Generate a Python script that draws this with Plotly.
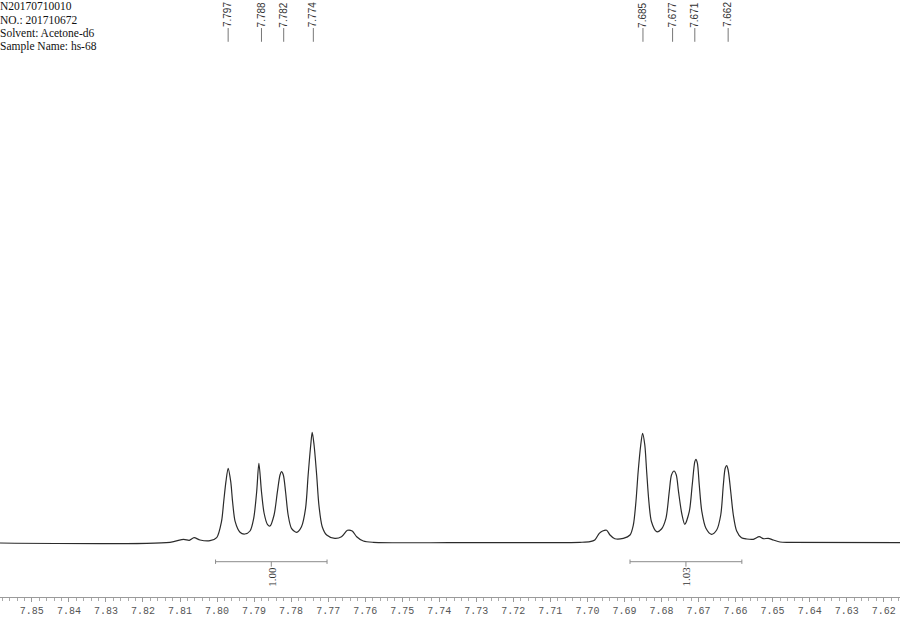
import plotly.graph_objects as go

# ---- data ----
ppm = [7.8586, 7.8127, 7.8090, 7.8075, 7.8062, 7.8046, 7.8019, 7.8001, 7.7988, 7.7982,
       7.7976, 7.7970, 7.7963, 7.7958, 7.7951, 7.7938, 7.7925, 7.7911, 7.7901, 7.7893,
       7.7887, 7.7880, 7.7873, 7.7864, 7.7857, 7.7846, 7.7837, 7.7830, 7.7826, 7.7821,
       7.7815, 7.7808, 7.7799, 7.7785, 7.7772, 7.7761, 7.7754, 7.7747, 7.7743, 7.7738,
       7.7731, 7.7725, 7.7716, 7.7704, 7.7682, 7.7664, 7.7648, 7.7635, 7.7623, 7.7605,
       7.7578, 7.7371, 7.7020, 7.6993, 7.6980, 7.6968, 7.6959, 7.6948, 7.6939, 7.6926,
       7.6903, 7.6885, 7.6876, 7.6869, 7.6863, 7.6856, 7.6851, 7.6845, 7.6840, 7.6834,
       7.6827, 7.6813, 7.6800, 7.6788, 7.6779, 7.6773, 7.6766, 7.6760, 7.6754, 7.6745,
       7.6737, 7.6725, 7.6717, 7.6710, 7.6707, 7.6703, 7.6698, 7.6691, 7.6680, 7.6665,
       7.6651, 7.6640, 7.6633, 7.6628, 7.6624, 7.6620, 7.6613, 7.6606, 7.6597, 7.6584,
       7.6570, 7.6552, 7.6536, 7.6525, 7.6512, 7.6498, 7.6480, 7.6453, 7.6156]
intensity = [0.0, 0.7, 3.7, 2.7, 5.3, 3.0, 2.3, 5.3, 21.3, 41.3,
             61.3, 74.7, 61.3, 41.3, 21.3, 10.7, 9.0, 12.0, 24.7, 51.3,
             79.7, 51.3, 30.0, 18.7, 17.0, 28.0, 51.3, 68.0, 71.3, 68.0,
             51.3, 28.0, 14.7, 10.7, 16.3, 34.7, 68.0, 98.0, 110.7, 98.0,
             68.0, 38.0, 16.3, 8.0, 4.7, 6.3, 12.7, 12.0, 6.3, 2.0,
             0.7, 0.3, 0.7, 1.3, 3.0, 9.7, 12.0, 12.7, 8.0, 4.3,
             4.7, 8.0, 18.0, 41.3, 71.3, 98.0, 109.7, 98.0, 71.3, 41.3,
             21.3, 11.3, 14.0, 24.7, 51.3, 68.0, 72.0, 68.0, 51.3, 29.0,
             18.7, 31.3, 58.0, 81.3, 83.7, 79.7, 58.0, 31.3, 14.7, 8.7,
             13.0, 28.0, 58.0, 74.7, 77.3, 73.0, 51.3, 28.0, 12.0, 5.3,
             4.0, 3.7, 6.3, 4.3, 4.7, 3.0, 1.0, 0.7, 0.3]

peak_labels = [7.797, 7.788, 7.782, 7.774, 7.685, 7.677, 7.671, 7.662]

integral_start = [7.8004, 7.6885]
integral_end = [7.7703, 7.6583]
integral_values = ["1.00", "1.03"]

header_lines = ["N20170710010", "NO.: 201710672", "Solvent: Acetone-d6", "Sample Name: hs-68"]

tick_vals = [7.85, 7.84, 7.83, 7.82, 7.81, 7.80, 7.79, 7.78, 7.77, 7.76, 7.75, 7.74,
             7.73, 7.72, 7.71, 7.70, 7.69, 7.68, 7.67, 7.66, 7.65, 7.64, 7.63, 7.62]
tick_text = ["%.2f" % v for v in tick_vals]

# ---- figure ----
fig = go.Figure()
fig.add_trace(go.Scatter(x=ppm, y=intensity, mode="lines",
                         line=dict(color="#2b2b2b", width=1.2, shape="spline", smoothing=0.8),
                         hoverinfo="skip", showlegend=False))

shapes = []
annotations = []

# integration brackets
for s, e, v in zip(integral_start, integral_end, integral_values):
    c = (s + e) / 2
    gray = "#8c8c8c"
    shapes.append(dict(type="line", xref="x", yref="y", x0=s, x1=e, y0=-18.7, y1=-18.7,
                       line=dict(color=gray, width=1)))
    shapes.append(dict(type="line", xref="x", yref="y", x0=s, x1=s, y0=-16.5, y1=-20.9,
                       line=dict(color=gray, width=1)))
    shapes.append(dict(type="line", xref="x", yref="y", x0=e, x1=e, y0=-16.5, y1=-20.9,
                       line=dict(color=gray, width=1)))
    shapes.append(dict(type="line", xref="x", yref="y", x0=c, x1=c, y0=-18.7, y1=-23.7,
                       line=dict(color=gray, width=1)))
    annotations.append(dict(x=c, y=-33.5, xref="x", yref="y", text=v, showarrow=False,
                            textangle=-90, xanchor="center", yanchor="middle",
                            font=dict(family="Liberation Serif", size=11, color="#333")))

# peak labels
for p in peak_labels:
    shapes.append(dict(type="line", xref="x", yref="paper", x0=p, x1=p, y0=0.953, y1=0.930,
                       line=dict(color="#777", width=1)))
    annotations.append(dict(x=p, y=0.975, xref="x", yref="paper", text="%.3f" % p,
                            showarrow=False, textangle=-90, xanchor="center", yanchor="middle",
                            font=dict(family="Liberation Sans", size=10, color="#333")))

# header
header_y = [0.990, 0.9665, 0.944, 0.9218]
for t, yy in zip(header_lines, header_y):
    annotations.append(dict(x=0.0, y=yy, xref="paper", yref="paper", text=t, showarrow=False,
                            xanchor="left", yanchor="middle", xshift=-2,
                            font=dict(family="Liberation Serif", size=11.5, color="#111")))

fig.update_layout(
    width=900, height=628,
    margin=dict(l=0, r=0, t=0, b=31),
    plot_bgcolor="white", paper_bgcolor="white",
    shapes=shapes, annotations=annotations,
    xaxis=dict(range=[7.8586, 7.6156], showgrid=False, zeroline=False,
               showline=True, linecolor="#9a9a9a", linewidth=1,
               ticks="outside", ticklen=4, tickcolor="#9a9a9a",
               tickvals=tick_vals, ticktext=tick_text,
               tickfont=dict(family="Liberation Mono", size=10, color="#555"),
               minor=dict(dtick=0.002, ticks="outside", ticklen=3, tickcolor="#aaaaaa"),
               fixedrange=True),
    yaxis=dict(range=[-54, 543], visible=False, fixedrange=True),
)

fig.write_html("out.html", config={"displayModeBar": False},
               post_script="document.body.style.margin='0';document.body.style.overflow='hidden';")
